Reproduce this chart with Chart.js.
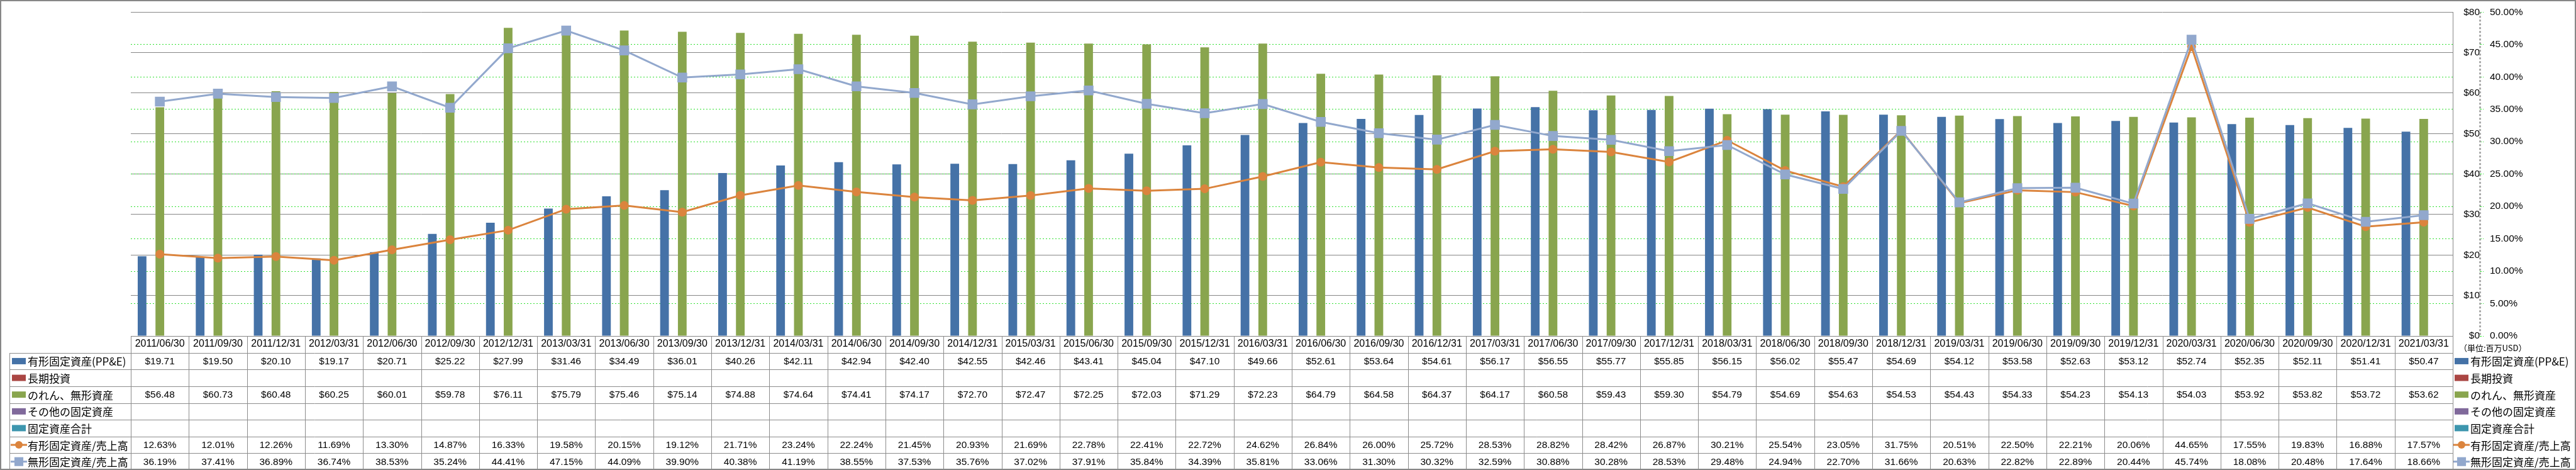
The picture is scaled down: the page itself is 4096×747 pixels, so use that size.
<!DOCTYPE html>
<html>
<head>
<meta charset="utf-8">
<script src="https://cdn.jsdelivr.net/npm/chart.js@4/dist/chart.umd.min.js"></script>
<style>
  html, body { margin: 0; padding: 0; background: #fff; overflow: hidden; }
</style>
</head>
<body>
<canvas id="chart" width="4096" height="747"></canvas>
<script>
// quarter end dates
const dates = [
  "2011/06/30", "2011/09/30", "2011/12/31", "2012/03/31", "2012/06/30", "2012/09/30", "2012/12/31", "2013/03/31",
  "2013/06/30", "2013/09/30", "2013/12/31", "2014/03/31", "2014/06/30", "2014/09/30", "2014/12/31", "2015/03/31",
  "2015/06/30", "2015/09/30", "2015/12/31", "2016/03/31", "2016/06/30", "2016/09/30", "2016/12/31", "2017/03/31",
  "2017/06/30", "2017/09/30", "2017/12/31", "2018/03/31", "2018/06/30", "2018/09/30", "2018/12/31", "2019/03/31",
  "2019/06/30", "2019/09/30", "2019/12/31", "2020/03/31", "2020/06/30", "2020/09/30", "2020/12/31", "2021/03/31"
];

// 有形固定資産(PP&E), million USD
const ppe = [
  19.71, 19.50, 20.10, 19.17, 20.71, 25.22, 27.99, 31.46, 34.49, 36.01, 40.26, 42.11, 42.94, 42.40, 42.55, 42.46,
  43.41, 45.04, 47.10, 49.66, 52.61, 53.64, 54.61, 56.17, 56.55, 55.77, 55.85, 56.15, 56.02, 55.47, 54.69, 54.12,
  53.58, 52.63, 53.12, 52.74, 52.35, 52.11, 51.41, 50.47
];

// のれん、無形資産, million USD
const goodwill = [
  56.48, 60.73, 60.48, 60.25, 60.01, 59.78, 76.11, 75.79, 75.46, 75.14, 74.88, 74.64, 74.41, 74.17, 72.70, 72.47,
  72.25, 72.03, 71.29, 72.23, 64.79, 64.58, 64.37, 64.17, 60.58, 59.43, 59.30, 54.79, 54.69, 54.63, 54.53, 54.43,
  54.33, 54.23, 54.13, 54.03, 53.92, 53.82, 53.72, 53.62
];

// 長期投資 / その他の固定資産 / 固定資産合計 have no values in the source
const longTermInvest = dates.map(() => null);
const otherFixed = dates.map(() => null);
const totalFixed = dates.map(() => null);

// 有形固定資産/売上高 (%)
const ppeRatio = [
  12.63, 12.01, 12.26, 11.69, 13.30, 14.87, 16.33, 19.58, 20.15, 19.12, 21.71, 23.24, 22.24, 21.45, 20.93, 21.69,
  22.78, 22.41, 22.72, 24.62, 26.84, 26.00, 25.72, 28.53, 28.82, 28.42, 26.87, 30.21, 25.54, 23.05, 31.75, 20.51,
  22.50, 22.21, 20.06, 44.65, 17.55, 19.83, 16.88, 17.57
];

// 無形固定資産/売上高 (%)
const intangibleRatio = [
  36.19, 37.41, 36.89, 36.74, 38.53, 35.24, 44.41, 47.15, 44.09, 39.90, 40.38, 41.19, 38.55, 37.53, 35.76, 37.02,
  37.91, 35.84, 34.39, 35.81, 33.06, 31.30, 30.32, 32.59, 30.88, 30.28, 28.53, 29.48, 24.94, 22.70, 31.66, 20.63,
  22.82, 22.89, 20.44, 45.74, 18.08, 20.48, 17.64, 18.66
];

const unitLabel = "（単位:百万USD）";

const FONT = '"Liberation Sans", "Noto Sans CJK JP", sans-serif';
const JP = '"Noto Sans CJK JP", "Liberation Sans", sans-serif';
const GRID = "#868686";
const TABLE_LINE = "#8c8c8c";

const money = (v) => "$" + v.toFixed(2);
const pct = (v) => v.toFixed(2) + "%";

// rows of the data table under the plot
const rows = [
  { label: "有形固定資産(PP&E)", color: "#4572A7", kind: "bar", values: ppe, fmt: money },
  { label: "長期投資", color: "#AA4643", kind: "bar", values: longTermInvest, fmt: money },
  { label: "のれん、無形資産", color: "#89A54E", kind: "bar", values: goodwill, fmt: money },
  { label: "その他の固定資産", color: "#80699B", kind: "bar", values: otherFixed, fmt: money },
  { label: "固定資産合計", color: "#3D96AE", kind: "bar", values: totalFixed, fmt: money },
  { label: "有形固定資産/売上高", color: "#DB843D", kind: "line", point: "circle", radius: 7, values: ppeRatio, fmt: pct },
  { label: "無形固定資産/売上高", color: "#92A8CD", kind: "line", point: "rect", radius: 11, values: intangibleRatio, fmt: pct },
];

const drawKey = (ctx, row, x, y) => {
  if (row.kind === "bar") {
    ctx.fillStyle = row.color;
    ctx.fillRect(x, y - 5, 22, 10);
  } else {
    ctx.strokeStyle = row.color;
    ctx.lineWidth = 3;
    ctx.beginPath();
    ctx.moveTo(x - 2, y);
    ctx.lineTo(x + 24, y);
    ctx.stroke();
    ctx.fillStyle = row.color;
    Chart.helpers.drawPoint(ctx, { pointStyle: row.point, radius: row.radius - 1, borderWidth: 0 }, x + 11, y);
  }
};

// data table + row keys + frame, placed from the x scale columns
const tablePlugin = {
  id: "dataTable",
  afterDraw(chart) {
    const { ctx, chartArea: a, scales } = chart;
    const x = scales.x;
    const H = chart.height;
    const top = a.bottom;
    const rowH = (H - top) / 8;
    const colW = (x.right - x.left) / dates.length;
    const labelLeft = 15;

    ctx.save();
    ctx.strokeStyle = TABLE_LINE;
    ctx.lineWidth = 1;
    ctx.beginPath();
    // horizontal lines
    for (let k = 1; k < 8; k++) {
      const y = Math.round(top + rowH * k) + 0.5;
      ctx.moveTo(labelLeft, y);
      ctx.lineTo(a.right, y);
    }
    // column separators
    for (let i = 0; i <= dates.length; i++) {
      const xx = Math.round(x.left + colW * i) + 0.5;
      ctx.moveTo(xx, top);
      ctx.lineTo(xx, H);
    }
    // label column left edge
    ctx.moveTo(labelLeft + 0.5, Math.round(top + rowH));
    ctx.lineTo(labelLeft + 0.5, H);
    ctx.stroke();

    // cell values
    ctx.fillStyle = "#000";
    ctx.textAlign = "center";
    ctx.textBaseline = "middle";
    ctx.font = "15.5px " + FONT;
    rows.forEach((row, r) => {
      const cy = top + rowH * (r + 1.5) + 1;
      row.values.forEach((v, i) => {
        if (v === null) return;
        ctx.fillText(row.fmt(v), x.getPixelForValue(i), cy);
      });
    });

    // row keys, left and right
    ctx.textAlign = "left";
    ctx.font = "17px " + JP;
    rows.forEach((row, r) => {
      const cy = top + rowH * (r + 1.5);
      drawKey(ctx, row, 19, cy);
      ctx.fillStyle = "#000";
      ctx.fillText(row.label, 44, cy + 1);
      drawKey(ctx, row, a.right + 3, cy);
      ctx.fillStyle = "#000";
      ctx.fillText(row.label, a.right + 28, cy + 1);
    });

    // unit note
    ctx.font = "13px " + JP;
    ctx.fillText(unitLabel, a.right + 10, top + rowH * 0.72);

    // dashed % axis line
    const y1 = scales.y1;
    ctx.strokeStyle = "#a8a8a8";
    ctx.setLineDash([3, 3]);
    ctx.beginPath();
    ctx.moveTo(Math.round(y1.left) + 0.5, a.top);
    ctx.lineTo(Math.round(y1.left) + 0.5, a.bottom);
    ctx.stroke();
    ctx.setLineDash([]);

    // outer frame
    ctx.strokeStyle = "#878787";
    ctx.lineWidth = 2;
    ctx.strokeRect(1, 1, chart.width - 2, H - 2);
    ctx.restore();
  },
};

const barOpts = {
  yAxisID: "y",
  order: 2,
  categoryPercentage: 0.765,
  barPercentage: 0.98,
};

const ctx = document.getElementById("chart");

new Chart(ctx, {
  type: "bar",
  data: {
    labels: dates,
    datasets: [
      ...rows.filter((r) => r.kind === "bar").map((r) => ({
        label: r.label,
        data: r.values,
        backgroundColor: r.color,
        ...barOpts,
      })),
      {
        type: "line",
        label: rows[5].label,
        data: ppeRatio,
        yAxisID: "y1",
        order: 1,
        borderColor: "#DB843D",
        backgroundColor: "#DB843D",
        borderWidth: 3,
        pointStyle: "circle",
        pointRadius: 7,
        pointBorderWidth: 0,
        tension: 0,
      },
      {
        type: "line",
        label: rows[6].label,
        data: intangibleRatio,
        yAxisID: "y1",
        order: 0,
        borderColor: "#92A8CD",
        backgroundColor: "#92A8CD",
        borderWidth: 3,
        pointStyle: "rect",
        pointRadius: 11,
        pointBorderWidth: 0,
        tension: 0,
      },
    ],
  },
  options: {
    responsive: false,
    animation: false,
    devicePixelRatio: 1,
    layout: { padding: { top: 11, left: 208, right: 43, bottom: 186.3 } },
    plugins: { legend: { display: false }, tooltip: { enabled: false } },
    scales: {
      x: {
        grid: { display: false, drawTicks: false },
        border: { display: true, color: GRID, width: 1 },
        ticks: {
          color: "#000",
          font: { family: FONT, size: 16 },
          maxRotation: 0,
          autoSkip: false,
          padding: 3,
        },
        afterFit(scale) { scale.height = 26.7; },
      },
      y: {
        position: "right",
        min: 0,
        max: 80,
        ticks: {
          stepSize: 10,
          color: "#000",
          font: { family: FONT, size: 15.5 },
          crossAlign: "far",
          callback: (v) => "$" + v,
        },
        grid: { color: GRID, lineWidth: 1, drawTicks: false },
        border: { display: true, color: GRID, width: 1 },
        afterFit(scale) { scale.width = 43; },
      },
      y1: {
        position: "right",
        min: 0,
        max: 50,
        ticks: {
          stepSize: 5,
          color: "#000",
          font: { family: FONT, size: 15.5 },
          padding: 10,
          callback: (v) => v.toFixed(2) + "%",
        },
        grid: {
          color: (c) => (c.tick && (c.tick.value === 0 || c.tick.value === 50) ? "rgba(0,0,0,0)" : "#2ee02e"),
          lineWidth: 1,
          tickLength: 6,
          tickColor: "#2ee02e",
          tickBorderDash: [3, 2],
        },
        border: { display: false, dash: [2, 3] },
        afterFit(scale) { scale.width = 110; },
      },
    },
  },
  plugins: [tablePlugin],
});
</script>
</body>
</html>
